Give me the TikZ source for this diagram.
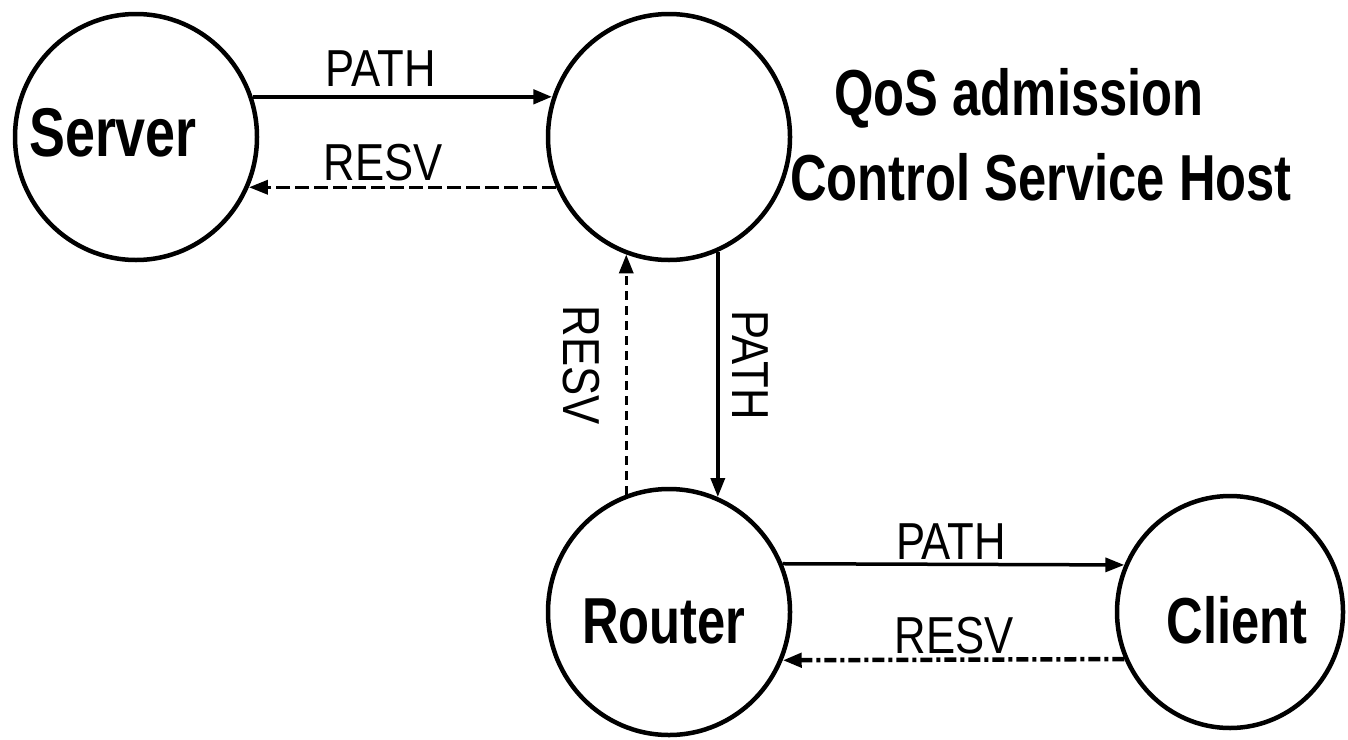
\documentclass[tikz,border=0pt]{standalone}
\usepackage{fontspec}
\setmainfont{Liberation Sans}
\newfontfamily\lblfont[FakeStretch=0.84]{Liberation Sans}
\newfontfamily\namefont[FakeStretch=0.78]{Liberation Sans}
\usetikzlibrary{arrows.meta,shapes.geometric}
\begin{document}
\begin{tikzpicture}[x=1pt,y=-1pt,
  circ/.style={draw, ellipse, line width=4.5pt, inner sep=0pt},
  bigcirc/.style={circ, minimum width=242pt, minimum height=246pt},
  tip/.style={-{Triangle[length=19pt,width=14pt]}},
  pathln/.style={tip, line width=3.5pt},
  resvln/.style={tip, line width=3.5pt, dash pattern=on 14pt off 5pt},
  resvvert/.style={tip, line width=3.5pt, dash pattern=on 9pt off 6pt},
  resvdot/.style={tip, line width=4.5pt, dash pattern=on 12pt off 4pt on 4pt off 4pt},
  lbl/.style={font=\lblfont\fontsize{52}{60}\selectfont, inner sep=0pt, text height=37pt, text depth=0pt},
  nm/.style={font=\namefont\bfseries\fontsize{65}{78}\selectfont, inner sep=0pt, text height=47pt, text depth=0pt}
]
\useasboundingbox (0,0) rectangle (1348,739);
% circles
\node[bigcirc] (server) at (136,137) {};
\node[bigcirc] (qos) at (669,137) {};
\node[bigcirc] (router) at (669,612) {};
\node[circ, minimum width=226pt, minimum height=232pt] (client) at (1230,612) {};
% names
\node[nm, font=\namefont\bfseries\fontsize{69}{78}\selectfont] (servertxt) at (113,133) {Server};
\node[nm] (routertxt) at (664,620) {Router};
\node[nm] (clienttxt) at (1237,620) {Client};
\node[nm] (qostxt1) at (1019,92) {QoS admission};
\node[nm] (qostxt2) at (1041,177) {Control Service Host};
% connectors
\draw[pathln, line width=4.5pt] (server.19) -- (qos.161);
\draw[resvln] (qos.-156) -- (server.-24);
\draw[resvvert] (router.110) -- (qos.-110);
\draw[pathln] (qos.-67) -- (router.67);
\draw[pathln] (router.23) -- (client.156);
\draw[resvdot] (client.-156) -- (router.-23);
% labels
\node[lbl] (l1) at (381,67.5) {PATH};
\node[lbl] (l2) at (383,161.5) {RESV};
\node[lbl, rotate=-90] (l3) at (582,365) {RESV};
\node[lbl, rotate=-90] (l4) at (751,365) {PATH};
\node[lbl] (l5) at (951,541) {PATH};
\node[lbl] (l6) at (954,635) {RESV};
\end{tikzpicture}
\end{document}
